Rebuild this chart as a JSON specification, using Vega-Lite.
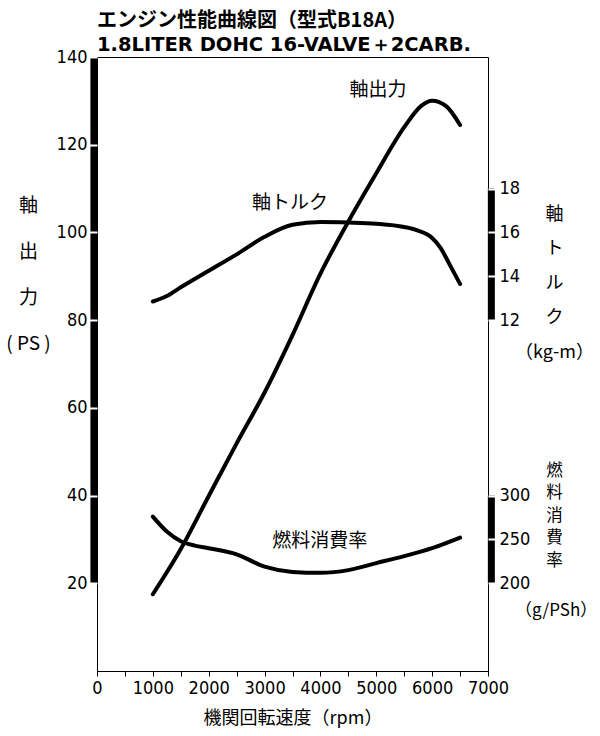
{
  "$schema": "https://vega.github.io/schema/vega-lite/v6.json",
  "autosize": {"type": "none"},
  "width": 391,
  "height": 614,
  "padding": {"left": 97, "top": 57, "right": 112, "bottom": 65},
  "background": "white",
  "title": {
    "text": "エンジン性能曲線図（型式B18A）",
    "subtitle": "1.8LITER DOHC 16-VALVE＋2CARB.",
    "anchor": "start",
    "frame": "group",
    "font": "Noto Sans CJK JP",
    "fontSize": 20,
    "fontWeight": "bold",
    "color": "black",
    "subtitleFont": "DejaVu Sans",
    "subtitleFontSize": 19.5,
    "subtitleFontWeight": "bold",
    "subtitleColor": "black",
    "subtitlePadding": 5,
    "offset": -6
  },
  "config": {
    "view": {"stroke": "black", "strokeWidth": 1},
    "axis": {"grid": false},
    "axisX": {
      "values": [0, 1000, 2000, 3000, 4000, 5000, 6000, 7000],
      "format": "d",
      "domain": true,
      "domainColor": "black",
      "tickColor": "black",
      "tickSize": 5,
      "labelFlush": false,
      "labelFont": "Liberation Sans Narrow, DejaVu Sans Condensed, Liberation Sans, sans-serif",
      "labelFontSize": 18,
      "labelColor": "black",
      "labelPadding": 3,
      "titleFont": "Noto Sans CJK JP",
      "titleFontSize": 18,
      "titleFontWeight": "normal",
      "titleColor": "black",
      "titlePadding": 12
    }
  },
  "datasets": {
    "power": [
      {"rpm": 1000, "ps": 17.5}, {"rpm": 1500, "ps": 27.8}, {"rpm": 2000, "ps": 39.9},
      {"rpm": 2500, "ps": 51.9}, {"rpm": 3000, "ps": 63.5}, {"rpm": 3500, "ps": 76.6},
      {"rpm": 4000, "ps": 90.6}, {"rpm": 4500, "ps": 102.5}, {"rpm": 5000, "ps": 113.5},
      {"rpm": 5500, "ps": 124}, {"rpm": 5800, "ps": 128.8}, {"rpm": 6000, "ps": 130},
      {"rpm": 6250, "ps": 128.8}, {"rpm": 6500, "ps": 124.5}
    ],
    "torque": [
      {"rpm": 1000, "kgm": 12.85}, {"rpm": 1250, "kgm": 13.1}, {"rpm": 1500, "kgm": 13.5},
      {"rpm": 2000, "kgm": 14.25}, {"rpm": 2500, "kgm": 15.0}, {"rpm": 3000, "kgm": 15.8},
      {"rpm": 3500, "kgm": 16.35}, {"rpm": 4000, "kgm": 16.47}, {"rpm": 4500, "kgm": 16.45},
      {"rpm": 5000, "kgm": 16.4}, {"rpm": 5500, "kgm": 16.25}, {"rpm": 5750, "kgm": 16.08},
      {"rpm": 6000, "kgm": 15.75}, {"rpm": 6150, "kgm": 15.3}, {"rpm": 6300, "kgm": 14.6},
      {"rpm": 6500, "kgm": 13.65}
    ],
    "fuel": [
      {"rpm": 1000, "gpsh": 276}, {"rpm": 1250, "gpsh": 259}, {"rpm": 1500, "gpsh": 248},
      {"rpm": 1750, "gpsh": 243}, {"rpm": 2000, "gpsh": 240}, {"rpm": 2500, "gpsh": 233},
      {"rpm": 3000, "gpsh": 219}, {"rpm": 3500, "gpsh": 213}, {"rpm": 4000, "gpsh": 212},
      {"rpm": 4500, "gpsh": 215}, {"rpm": 5000, "gpsh": 223}, {"rpm": 5500, "gpsh": 231},
      {"rpm": 6000, "gpsh": 240}, {"rpm": 6500, "gpsh": 252}
    ],
    "labels": [
      {"label": "軸出力", "rpm": 5030, "ps": 132.5},
      {"label": "軸トルク", "rpm": 3455, "ps": 106.8},
      {"label": "燃料消費率", "rpm": 3990, "ps": 29.6}
    ],
    "fuelUnit": [
      {"label": "（g/PSh）", "rpm": 8220, "gpsh": 168}
    ]
  },
  "layer": [
    {
      "layer": [
        {
          "data": {"name": "power"},
          "mark": {"type": "line", "color": "black", "strokeWidth": 4, "interpolate": "monotone", "strokeCap": "round"},
          "encoding": {
            "x": {"field": "rpm", "type": "quantitative", "scale": {"domain": [0, 7000], "nice": false}, "title": "機関回転速度（rpm）"},
            "y": {
              "field": "ps", "type": "quantitative", "scale": {"domain": [0, 140], "nice": false},
              "axis": {
                "orient": "left",
                "values": [20, 40, 60, 80, 100, 120, 140],
                "domain": false,
                "tickColor": "white",
                "tickWidth": 2,
                "tickSize": 8,
                "labelPadding": 2,
                "labelFont": "Liberation Sans Narrow, DejaVu Sans Condensed, Liberation Sans, sans-serif",
                "labelFontSize": 18,
                "labelColor": "black",
                "title": ["軸", "出", "力", "( PS )"],
                "titleAngle": 0,
                "titleX": -69,
                "titleY": 139,
                "titleAlign": "center",
                "titleBaseline": "top",
                "titleLineHeight": 46,
                "titleFont": "Noto Sans CJK JP",
                "titleFontSize": 19,
                "titleFontWeight": "normal",
                "titleColor": "black",
                "zindex": 1
              }
            }
          }
        },
        {
          "data": {"values": [{"lo": 20, "hi": 140}]},
          "mark": {"type": "rule", "color": "black", "strokeWidth": 7, "strokeCap": "butt"},
          "encoding": {
            "x": {"datum": -55, "type": "quantitative", "scale": {"domain": [0, 7000], "nice": false}, "title": "機関回転速度（rpm）"},
            "y": {"field": "lo", "type": "quantitative", "scale": {"domain": [0, 140], "nice": false}, "title": ["軸", "出", "力", "( PS )"]},
            "y2": {"field": "hi"}
          }
        },
        {
          "data": {"name": "labels"},
          "mark": {"type": "text", "font": "Noto Sans CJK JP", "fontSize": 19, "color": "black", "align": "center", "baseline": "middle"},
          "encoding": {
            "x": {"field": "rpm", "type": "quantitative", "scale": {"domain": [0, 7000], "nice": false}, "title": "機関回転速度（rpm）"},
            "y": {"field": "ps", "type": "quantitative", "scale": {"domain": [0, 140], "nice": false}, "title": ["軸", "出", "力", "( PS )"]},
            "text": {"field": "label"}
          }
        }
      ]
    },
    {
      "layer": [
        {
          "data": {"name": "torque"},
          "mark": {"type": "line", "color": "black", "strokeWidth": 4, "interpolate": "monotone", "strokeCap": "round"},
          "encoding": {
            "x": {"field": "rpm", "type": "quantitative", "scale": {"domain": [0, 7000], "nice": false}, "title": "機関回転速度（rpm）"},
            "y": {
              "field": "kgm", "type": "quantitative", "scale": {"domain": [-4, 24], "nice": false},
              "axis": {
                "orient": "right",
                "values": [12, 14, 16, 18],
                "domain": false,
                "tickColor": "white",
                "tickWidth": 2,
                "tickSize": 8,
                "labelPadding": 3,
                "labelFont": "Liberation Sans Narrow, DejaVu Sans Condensed, Liberation Sans, sans-serif",
                "labelFontSize": 18,
                "labelColor": "black",
                "title": ["軸", "ト", "ル", "ク", "（kg-m）"],
                "titleAngle": 0,
                "titleX": 66,
                "titleY": 148,
                "titleAlign": "center",
                "titleBaseline": "top",
                "titleLineHeight": 34.5,
                "titleFont": "Noto Sans CJK JP",
                "titleFontSize": 18,
                "titleFontWeight": "normal",
                "titleColor": "black",
                "zindex": 1
              }
            }
          }
        },
        {
          "data": {"values": [{"lo": 12, "hi": 18}]},
          "mark": {"type": "rule", "color": "black", "strokeWidth": 7, "strokeCap": "butt"},
          "encoding": {
            "x": {"datum": 7060, "type": "quantitative", "scale": {"domain": [0, 7000], "nice": false}, "title": "機関回転速度（rpm）"},
            "y": {"field": "lo", "type": "quantitative", "scale": {"domain": [-4, 24], "nice": false}, "title": ["軸", "ト", "ル", "ク", "（kg-m）"]},
            "y2": {"field": "hi"}
          }
        }
      ]
    },
    {
      "layer": [
        {
          "data": {"name": "fuel"},
          "mark": {"type": "line", "color": "black", "strokeWidth": 4, "interpolate": "monotone", "strokeCap": "round"},
          "encoding": {
            "x": {"field": "rpm", "type": "quantitative", "scale": {"domain": [0, 7000], "nice": false}, "title": "機関回転速度（rpm）"},
            "y": {
              "field": "gpsh", "type": "quantitative", "scale": {"domain": [100, 800], "nice": false},
              "axis": {
                "orient": "right",
                "values": [200, 250, 300],
                "domain": false,
                "tickColor": "white",
                "tickWidth": 2,
                "tickSize": 8,
                "labelPadding": 3,
                "labelFont": "Liberation Sans Narrow, DejaVu Sans Condensed, Liberation Sans, sans-serif",
                "labelFontSize": 18,
                "labelColor": "black",
                "title": ["燃", "料", "消", "費", "率"],
                "titleAngle": 0,
                "titleX": 66,
                "titleY": 405,
                "titleAlign": "center",
                "titleBaseline": "top",
                "titleLineHeight": 22.5,
                "titleFont": "Noto Sans CJK JP",
                "titleFontSize": 16.5,
                "titleFontWeight": "normal",
                "titleColor": "black",
                "zindex": 1
              }
            }
          }
        },
        {
          "data": {"values": [{"lo": 200, "hi": 300}]},
          "mark": {"type": "rule", "color": "black", "strokeWidth": 7, "strokeCap": "butt"},
          "encoding": {
            "x": {"datum": 7060, "type": "quantitative", "scale": {"domain": [0, 7000], "nice": false}, "title": "機関回転速度（rpm）"},
            "y": {"field": "lo", "type": "quantitative", "scale": {"domain": [100, 800], "nice": false}, "title": ["燃", "料", "消", "費", "率"]},
            "y2": {"field": "hi"}
          }
        },
        {
          "data": {"name": "fuelUnit"},
          "mark": {"type": "text", "font": "Noto Sans CJK JP", "fontSize": 17, "color": "black", "align": "center", "baseline": "middle"},
          "encoding": {
            "x": {"field": "rpm", "type": "quantitative", "scale": {"domain": [0, 7000], "nice": false}, "title": "機関回転速度（rpm）"},
            "y": {"field": "gpsh", "type": "quantitative", "scale": {"domain": [100, 800], "nice": false}, "title": ["燃", "料", "消", "費", "率"]},
            "text": {"field": "label"}
          }
        }
      ]
    }
  ],
  "resolve": {"scale": {"y": "independent"}, "axis": {"y": "independent"}}
}
